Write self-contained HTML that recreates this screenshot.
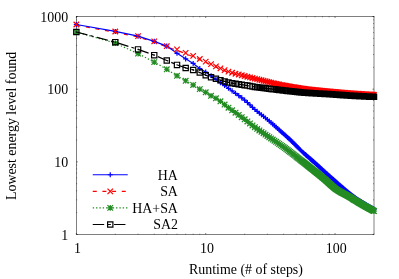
<!DOCTYPE html>
<html><head><meta charset="utf-8"><title>plot</title>
<style>html,body{margin:0;padding:0;background:#fff;}svg{display:block;will-change:transform;}text{font-family:"Liberation Serif",serif;font-size:13.9px;fill:#000;}</style></head><body>
<svg width="399" height="279" viewBox="0 0 399 279">
<rect width="399" height="279" fill="#fff"/>
<g fill="none" stroke="#000" stroke-width="0.5">
<rect x="76.35" y="16.5" width="297.65" height="218"/>
<path d="M76.35 234.5v-1.5M76.35 16.5v1.5M115.29 234.5v-0.8M115.29 16.5v0.8M138.07 234.5v-0.8M138.07 16.5v0.8M154.23 234.5v-0.8M154.23 16.5v0.8M166.77 234.5v-0.8M166.77 16.5v0.8M177.01 234.5v-0.8M177.01 16.5v0.8M185.67 234.5v-0.8M185.67 16.5v0.8M193.17 234.5v-0.8M193.17 16.5v0.8M199.79 234.5v-0.8M199.79 16.5v0.8M205.71 234.5v-1.5M205.71 16.5v1.5M244.64 234.5v-0.8M244.64 16.5v0.8M267.42 234.5v-0.8M267.42 16.5v0.8M283.58 234.5v-0.8M283.58 16.5v0.8M296.12 234.5v-0.8M296.12 16.5v0.8M306.36 234.5v-0.8M306.36 16.5v0.8M315.02 234.5v-0.8M315.02 16.5v0.8M322.52 234.5v-0.8M322.52 16.5v0.8M329.14 234.5v-0.8M329.14 16.5v0.8M335.06 234.5v-1.5M335.06 16.5v1.5M374 234.5v-0.8M374 16.5v0.8M76.35 234.5h1.5M374 234.5h-1.5M76.35 212.63h0.8M374 212.63h-0.8M76.35 199.83h0.8M374 199.83h-0.8M76.35 190.75h0.8M374 190.75h-0.8M76.35 183.71h0.8M374 183.71h-0.8M76.35 177.95h0.8M374 177.95h-0.8M76.35 173.09h0.8M374 173.09h-0.8M76.35 168.88h0.8M374 168.88h-0.8M76.35 165.16h0.8M374 165.16h-0.8M76.35 161.83h1.5M374 161.83h-1.5M76.35 139.96h0.8M374 139.96h-0.8M76.35 127.16h0.8M374 127.16h-0.8M76.35 118.08h0.8M374 118.08h-0.8M76.35 111.04h0.8M374 111.04h-0.8M76.35 105.29h0.8M374 105.29h-0.8M76.35 100.42h0.8M374 100.42h-0.8M76.35 96.21h0.8M374 96.21h-0.8M76.35 92.49h0.8M374 92.49h-0.8M76.35 89.17h1.5M374 89.17h-1.5M76.35 67.29h0.8M374 67.29h-0.8M76.35 54.5h0.8M374 54.5h-0.8M76.35 45.42h0.8M374 45.42h-0.8M76.35 38.37h0.8M374 38.37h-0.8M76.35 32.62h0.8M374 32.62h-0.8M76.35 27.76h0.8M374 27.76h-0.8M76.35 23.54h0.8M374 23.54h-0.8M76.35 19.83h0.8M374 19.83h-0.8M76.35 16.5h1.5M374 16.5h-1.5"/>
</g>
<text x="68.1" y="239.8" text-anchor="end">1</text>
<text x="68.1" y="167.13" text-anchor="end">10</text>
<text x="68.1" y="94.47" text-anchor="end">100</text>
<text x="68.1" y="21.8" text-anchor="end">1000</text>
<text x="77.55" y="253.4" text-anchor="middle">1</text>
<text x="206.91" y="253.4" text-anchor="middle">10</text>
<text x="336.26" y="253.4" text-anchor="middle">100</text>
<text x="246" y="274.1" text-anchor="middle">Runtime (# of steps)</text>
<text transform="translate(16 125.9) rotate(-90)" text-anchor="middle">Lowest energy level found</text>
<path fill="none" stroke="#ff0000" stroke-width="1.2" d="M76.35 25.3 L115.29 32.26 L138.07 36.99 L154.23 42.21 L166.77 46.97 L177.01 50.2 L185.67 53.71 L193.17 56.7 L199.79 59.76 L205.71 62.47 L211.06 64.91 L215.95 67.18 L220.44 69.2 L224.61 70.95 L228.48 72.39 L232.11 73.55 L235.51 74.51 L238.73 75.33 L241.76 76.09 L244.64 76.81 L247.39 77.51 L250 78.16 L252.5 78.78 L254.89 79.37 L257.18 79.95 L259.38 80.51 L261.5 81.05 L263.55 81.58 L265.52 82.09 L267.42 82.57 L269.27 83.04 L271.05 83.48 L272.78 83.9 L274.45 84.29 L276.08 84.66 L277.67 85.01 L279.2 85.34 L280.7 85.64 L282.16 85.93 L283.58 86.21 L284.97 86.48 L286.33 86.74 L287.65 86.99 L288.94 87.23 L290.2 87.46 L291.44 87.68 L292.64 87.89 L293.83 88.09 L294.99 88.29 L296.12 88.48 L297.23 88.66 L298.32 88.83 L299.39 89 L300.44 89.16 L301.47 89.31 L302.49 89.45 L303.48 89.59 L304.46 89.73 L305.42 89.86 L306.36 89.98 L307.29 90.1 L308.21 90.21 L309.1 90.32 L309.99 90.43 L310.86 90.53 L311.72 90.63 L312.56 90.73 L313.39 90.82 L314.21 90.91 L315.02 91 L315.82 91.09 L316.61 91.17 L317.38 91.26 L318.14 91.34 L318.9 91.41 L319.64 91.49 L320.38 91.57 L321.1 91.64 L321.82 91.71 L322.52 91.78 L323.22 91.85 L323.91 91.92 L324.59 91.98 L325.27 92.05 L325.93 92.11 L326.59 92.18 L327.24 92.24 L327.88 92.3 L328.51 92.36 L329.14 92.42 L329.76 92.48 L330.38 92.54 L330.98 92.59 L331.58 92.65 L332.18 92.7 L332.77 92.76 L333.35 92.81 L333.93 92.86 L334.5 92.92 L335.06 92.97 L335.62 93.02 L336.17 93.07 L336.72 93.12 L337.26 93.16 L337.8 93.21 L338.33 93.26 L338.86 93.3 L339.38 93.35 L339.9 93.39 L340.41 93.44 L340.92 93.48 L341.43 93.52 L341.93 93.56 L342.42 93.6 L342.91 93.65 L343.4 93.69 L343.88 93.72 L344.36 93.76 L344.83 93.8 L345.3 93.84 L345.77 93.88 L346.23 93.91 L346.69 93.95 L347.14 93.98 L347.6 94.02 L348.04 94.05 L348.49 94.09 L348.93 94.12 L349.37 94.15 L349.8 94.19 L350.23 94.22 L350.66 94.25 L351.08 94.28 L351.5 94.31 L351.92 94.34 L352.33 94.37 L352.75 94.4 L353.15 94.43 L353.56 94.46 L353.96 94.49 L354.36 94.52 L354.76 94.55 L355.15 94.57 L355.55 94.6 L355.93 94.63 L356.32 94.66 L356.7 94.68 L357.08 94.71 L357.46 94.74 L357.84 94.76 L358.21 94.79 L358.58 94.81 L358.95 94.84 L359.32 94.86 L359.68 94.89 L360.04 94.91 L360.4 94.94 L360.76 94.96 L361.11 94.99 L361.46 95.01 L361.81 95.03 L362.16 95.05 L362.51 95.08 L362.85 95.1 L363.19 95.12 L363.53 95.14 L363.87 95.17 L364.21 95.19 L364.54 95.21 L364.87 95.23 L365.2 95.25 L365.53 95.27 L365.85 95.29 L366.18 95.31 L366.5 95.33 L366.82 95.35 L367.14 95.37 L367.45 95.39 L367.77 95.41 L368.08 95.43 L368.39 95.45 L368.7 95.47 L369.01 95.49 L369.32 95.5 L369.62 95.52 L369.92 95.54 L370.22 95.56 L370.52 95.58 L370.82 95.59 L371.12 95.61 L371.41 95.63 L371.71 95.64 L372 95.66 L372.29 95.68 L372.58 95.69 L372.87 95.71 L373.15 95.73 L373.44 95.74 L373.72 95.76 L374 95.77" stroke-dasharray="4 5.67"/>
<path fill="none" stroke="#0000ff" stroke-width="1.2" d="M76.35 24.5 L115.29 31.46 L138.07 36.19 L154.23 41.41 L166.77 46.13 L177.01 53.3 L185.67 58.85 L193.17 63.44 L199.79 68.48 L205.71 72.11 L211.06 75.82 L215.95 79.42 L220.44 82.63 L224.61 85.57 L228.48 88.31 L232.11 90.9 L235.51 93.3 L238.73 95.59 L241.76 97.84 L244.64 100.11 L247.39 102.49 L250 104.95 L252.5 107.34 L254.89 109.5 L257.18 111.42 L259.38 113.18 L261.5 114.83 L263.55 116.42 L265.52 117.98 L267.42 119.54 L269.27 121.1 L271.05 122.64 L272.78 124.15 L274.45 125.64 L276.08 127.09 L277.67 128.51 L279.2 129.89 L280.7 131.23 L282.16 132.53 L283.58 133.8 L284.97 135.04 L286.33 136.26 L287.65 137.46 L288.94 138.65 L290.2 139.82 L291.44 140.98 L292.64 142.14 L293.83 143.31 L294.99 144.5 L296.12 145.67 L297.23 146.83 L298.32 147.94 L299.39 149.01 L300.44 150.02 L301.47 150.99 L302.49 151.93 L303.48 152.84 L304.46 153.72 L305.42 154.58 L306.36 155.41 L307.29 156.23 L308.21 157.03 L309.1 157.81 L309.99 158.59 L310.86 159.35 L311.72 160.1 L312.56 160.84 L313.39 161.57 L314.21 162.3 L315.02 163.02 L315.82 163.74 L316.61 164.44 L317.38 165.14 L318.14 165.84 L318.9 166.52 L319.64 167.2 L320.38 167.87 L321.1 168.53 L321.82 169.18 L322.52 169.83 L323.22 170.46 L323.91 171.09 L324.59 171.72 L325.27 172.33 L325.93 172.94 L326.59 173.54 L327.24 174.13 L327.88 174.71 L328.51 175.29 L329.14 175.86 L329.76 176.42 L330.38 176.98 L330.98 177.53 L331.58 178.07 L332.18 178.6 L332.77 179.13 L333.35 179.65 L333.93 180.16 L334.5 180.67 L335.06 181.17 L335.62 181.66 L336.17 182.15 L336.72 182.63 L337.26 183.1 L337.8 183.57 L338.33 184.03 L338.86 184.48 L339.38 184.93 L339.9 185.38 L340.41 185.82 L340.92 186.26 L341.43 186.69 L341.93 187.13 L342.42 187.55 L342.91 187.98 L343.4 188.4 L343.88 188.81 L344.36 189.23 L344.83 189.63 L345.3 190.04 L345.77 190.43 L346.23 190.83 L346.69 191.22 L347.14 191.6 L347.6 191.98 L348.04 192.35 L348.49 192.72 L348.93 193.09 L349.37 193.44 L349.8 193.8 L350.23 194.15 L350.66 194.49 L351.08 194.83 L351.5 195.16 L351.92 195.49 L352.33 195.81 L352.75 196.13 L353.15 196.44 L353.56 196.74 L353.96 197.04 L354.36 197.34 L354.76 197.63 L355.15 197.91 L355.55 198.19 L355.93 198.46 L356.32 198.73 L356.7 198.99 L357.08 199.24 L357.46 199.5 L357.84 199.74 L358.21 199.99 L358.58 200.23 L358.95 200.46 L359.32 200.7 L359.68 200.93 L360.04 201.15 L360.4 201.38 L360.76 201.6 L361.11 201.82 L361.46 202.04 L361.81 202.26 L362.16 202.47 L362.51 202.68 L362.85 202.9 L363.19 203.1 L363.53 203.31 L363.87 203.52 L364.21 203.72 L364.54 203.92 L364.87 204.12 L365.2 204.32 L365.53 204.52 L365.85 204.71 L366.18 204.9 L366.5 205.1 L366.82 205.29 L367.14 205.47 L367.45 205.66 L367.77 205.84 L368.08 206.03 L368.39 206.21 L368.7 206.39 L369.01 206.56 L369.32 206.74 L369.62 206.91 L369.92 207.09 L370.22 207.26 L370.52 207.43 L370.82 207.59 L371.12 207.76 L371.41 207.92 L371.71 208.09 L372 208.25 L372.29 208.41 L372.58 208.57 L372.87 208.72 L373.15 208.88 L373.44 209.03 L373.72 209.18 L374 209.33"/>
<path fill="none" stroke="#0000ff" stroke-width="1.2" d="M73.8 24.5h5.1M76.35 21.95v5.1M112.74 31.46h5.1M115.29 28.91v5.1M135.52 36.19h5.1M138.07 33.64v5.1M151.68 41.41h5.1M154.23 38.86v5.1M164.22 46.13h5.1M166.77 43.58v5.1M174.46 53.3h5.1M177.01 50.75v5.1M183.12 58.85h5.1M185.67 56.3v5.1M190.62 63.44h5.1M193.17 60.89v5.1M197.24 68.48h5.1M199.79 65.93v5.1M203.16 72.11h5.1M205.71 69.56v5.1M208.51 75.82h5.1M211.06 73.27v5.1M213.4 79.42h5.1M215.95 76.87v5.1M217.89 82.63h5.1M220.44 80.08v5.1M222.06 85.57h5.1M224.61 83.02v5.1M225.93 88.31h5.1M228.48 85.76v5.1M229.56 90.9h5.1M232.11 88.35v5.1M232.96 93.3h5.1M235.51 90.75v5.1M236.18 95.59h5.1M238.73 93.04v5.1M239.21 97.84h5.1M241.76 95.29v5.1M242.09 100.11h5.1M244.64 97.56v5.1M244.84 102.49h5.1M247.39 99.94v5.1M247.45 104.95h5.1M250 102.4v5.1M249.95 107.34h5.1M252.5 104.79v5.1M252.34 109.5h5.1M254.89 106.95v5.1M254.63 111.42h5.1M257.18 108.87v5.1M256.83 113.18h5.1M259.38 110.63v5.1M258.95 114.83h5.1M261.5 112.28v5.1M261 116.42h5.1M263.55 113.87v5.1M262.97 117.98h5.1M265.52 115.43v5.1M264.87 119.54h5.1M267.42 116.99v5.1M266.72 121.1h5.1M269.27 118.55v5.1M268.5 122.64h5.1M271.05 120.09v5.1M270.23 124.15h5.1M272.78 121.6v5.1M271.9 125.64h5.1M274.45 123.09v5.1M273.53 127.09h5.1M276.08 124.54v5.1M275.12 128.51h5.1M277.67 125.96v5.1M276.65 129.89h5.1M279.2 127.34v5.1M278.15 131.23h5.1M280.7 128.68v5.1M279.61 132.53h5.1M282.16 129.98v5.1M281.03 133.8h5.1M283.58 131.25v5.1M282.42 135.04h5.1M284.97 132.49v5.1M283.78 136.26h5.1M286.33 133.71v5.1M285.1 137.46h5.1M287.65 134.91v5.1M286.39 138.65h5.1M288.94 136.1v5.1M287.65 139.82h5.1M290.2 137.27v5.1M288.89 140.98h5.1M291.44 138.43v5.1M290.09 142.14h5.1M292.64 139.59v5.1M291.28 143.31h5.1M293.83 140.76v5.1M292.44 144.5h5.1M294.99 141.95v5.1M293.57 145.67h5.1M296.12 143.12v5.1M294.68 146.83h5.1M297.23 144.28v5.1M295.77 147.94h5.1M298.32 145.39v5.1M296.84 149.01h5.1M299.39 146.46v5.1M297.89 150.02h5.1M300.44 147.47v5.1M298.92 150.99h5.1M301.47 148.44v5.1M299.94 151.93h5.1M302.49 149.38v5.1M300.93 152.84h5.1M303.48 150.29v5.1M301.91 153.72h5.1M304.46 151.17v5.1M302.87 154.58h5.1M305.42 152.03v5.1M303.81 155.41h5.1M306.36 152.86v5.1M304.74 156.23h5.1M307.29 153.68v5.1M305.66 157.03h5.1M308.21 154.48v5.1M306.55 157.81h5.1M309.1 155.26v5.1M307.44 158.59h5.1M309.99 156.04v5.1M308.31 159.35h5.1M310.86 156.8v5.1M309.17 160.1h5.1M311.72 157.55v5.1M310.01 160.84h5.1M312.56 158.29v5.1M310.84 161.57h5.1M313.39 159.02v5.1M311.66 162.3h5.1M314.21 159.75v5.1M312.47 163.02h5.1M315.02 160.47v5.1M313.27 163.74h5.1M315.82 161.19v5.1M314.06 164.44h5.1M316.61 161.89v5.1M314.83 165.14h5.1M317.38 162.59v5.1M315.59 165.84h5.1M318.14 163.29v5.1M316.35 166.52h5.1M318.9 163.97v5.1M317.09 167.2h5.1M319.64 164.65v5.1M317.83 167.87h5.1M320.38 165.32v5.1M318.55 168.53h5.1M321.1 165.98v5.1M319.27 169.18h5.1M321.82 166.63v5.1M319.97 169.83h5.1M322.52 167.28v5.1M320.67 170.46h5.1M323.22 167.91v5.1M321.36 171.09h5.1M323.91 168.54v5.1M322.04 171.72h5.1M324.59 169.17v5.1M322.72 172.33h5.1M325.27 169.78v5.1M323.38 172.94h5.1M325.93 170.39v5.1M324.04 173.54h5.1M326.59 170.99v5.1M324.69 174.13h5.1M327.24 171.58v5.1M325.33 174.71h5.1M327.88 172.16v5.1M325.96 175.29h5.1M328.51 172.74v5.1M326.59 175.86h5.1M329.14 173.31v5.1M327.21 176.42h5.1M329.76 173.87v5.1M327.83 176.98h5.1M330.38 174.43v5.1M328.43 177.53h5.1M330.98 174.98v5.1M329.03 178.07h5.1M331.58 175.52v5.1M329.63 178.6h5.1M332.18 176.05v5.1M330.22 179.13h5.1M332.77 176.58v5.1M330.8 179.65h5.1M333.35 177.1v5.1M331.38 180.16h5.1M333.93 177.61v5.1M331.95 180.67h5.1M334.5 178.12v5.1M332.51 181.17h5.1M335.06 178.62v5.1M333.07 181.66h5.1M335.62 179.11v5.1M333.62 182.15h5.1M336.17 179.6v5.1M334.17 182.63h5.1M336.72 180.08v5.1M334.71 183.1h5.1M337.26 180.55v5.1M335.25 183.57h5.1M337.8 181.02v5.1M335.78 184.03h5.1M338.33 181.48v5.1M336.31 184.48h5.1M338.86 181.93v5.1M336.83 184.93h5.1M339.38 182.38v5.1M337.35 185.38h5.1M339.9 182.83v5.1M337.86 185.82h5.1M340.41 183.27v5.1M338.37 186.26h5.1M340.92 183.71v5.1M338.88 186.69h5.1M341.43 184.14v5.1M339.38 187.13h5.1M341.93 184.58v5.1M339.87 187.55h5.1M342.42 185v5.1M340.36 187.98h5.1M342.91 185.43v5.1M340.85 188.4h5.1M343.4 185.85v5.1M341.33 188.81h5.1M343.88 186.26v5.1M341.81 189.23h5.1M344.36 186.68v5.1M342.28 189.63h5.1M344.83 187.08v5.1M342.75 190.04h5.1M345.3 187.49v5.1M343.22 190.43h5.1M345.77 187.88v5.1M343.68 190.83h5.1M346.23 188.28v5.1M344.14 191.22h5.1M346.69 188.67v5.1M344.59 191.6h5.1M347.14 189.05v5.1M345.05 191.98h5.1M347.6 189.43v5.1M345.49 192.35h5.1M348.04 189.8v5.1M345.94 192.72h5.1M348.49 190.17v5.1M346.38 193.09h5.1M348.93 190.54v5.1M346.82 193.44h5.1M349.37 190.89v5.1M347.25 193.8h5.1M349.8 191.25v5.1M347.68 194.15h5.1M350.23 191.6v5.1M348.11 194.49h5.1M350.66 191.94v5.1M348.53 194.83h5.1M351.08 192.28v5.1M348.95 195.16h5.1M351.5 192.61v5.1M349.37 195.49h5.1M351.92 192.94v5.1M349.78 195.81h5.1M352.33 193.26v5.1M350.2 196.13h5.1M352.75 193.58v5.1M350.6 196.44h5.1M353.15 193.89v5.1M351.01 196.74h5.1M353.56 194.19v5.1M351.41 197.04h5.1M353.96 194.49v5.1M351.81 197.34h5.1M354.36 194.79v5.1M352.21 197.63h5.1M354.76 195.08v5.1M352.6 197.91h5.1M355.15 195.36v5.1M353 198.19h5.1M355.55 195.64v5.1M353.38 198.46h5.1M355.93 195.91v5.1M353.77 198.73h5.1M356.32 196.18v5.1M354.15 198.99h5.1M356.7 196.44v5.1M354.53 199.24h5.1M357.08 196.69v5.1M354.91 199.5h5.1M357.46 196.95v5.1M355.29 199.74h5.1M357.84 197.19v5.1M355.66 199.99h5.1M358.21 197.44v5.1M356.03 200.23h5.1M358.58 197.68v5.1M356.4 200.46h5.1M358.95 197.91v5.1M356.77 200.7h5.1M359.32 198.15v5.1M357.13 200.93h5.1M359.68 198.38v5.1M357.49 201.15h5.1M360.04 198.6v5.1M357.85 201.38h5.1M360.4 198.83v5.1M358.21 201.6h5.1M360.76 199.05v5.1M358.56 201.82h5.1M361.11 199.27v5.1M358.91 202.04h5.1M361.46 199.49v5.1M359.26 202.26h5.1M361.81 199.71v5.1M359.61 202.47h5.1M362.16 199.92v5.1M359.96 202.68h5.1M362.51 200.13v5.1M360.3 202.9h5.1M362.85 200.35v5.1M360.64 203.1h5.1M363.19 200.55v5.1M360.98 203.31h5.1M363.53 200.76v5.1M361.32 203.52h5.1M363.87 200.97v5.1M361.66 203.72h5.1M364.21 201.17v5.1M361.99 203.92h5.1M364.54 201.37v5.1M362.32 204.12h5.1M364.87 201.57v5.1M362.65 204.32h5.1M365.2 201.77v5.1M362.98 204.52h5.1M365.53 201.97v5.1M363.3 204.71h5.1M365.85 202.16v5.1M363.63 204.9h5.1M366.18 202.35v5.1M363.95 205.1h5.1M366.5 202.55v5.1M364.27 205.29h5.1M366.82 202.74v5.1M364.59 205.47h5.1M367.14 202.92v5.1M364.9 205.66h5.1M367.45 203.11v5.1M365.22 205.84h5.1M367.77 203.29v5.1M365.53 206.03h5.1M368.08 203.48v5.1M365.84 206.21h5.1M368.39 203.66v5.1M366.15 206.39h5.1M368.7 203.84v5.1M366.46 206.56h5.1M369.01 204.01v5.1M366.77 206.74h5.1M369.32 204.19v5.1M367.07 206.91h5.1M369.62 204.36v5.1M367.37 207.09h5.1M369.92 204.54v5.1M367.67 207.26h5.1M370.22 204.71v5.1M367.97 207.43h5.1M370.52 204.88v5.1M368.27 207.59h5.1M370.82 205.04v5.1M368.57 207.76h5.1M371.12 205.21v5.1M368.86 207.92h5.1M371.41 205.37v5.1M369.16 208.09h5.1M371.71 205.54v5.1M369.45 208.25h5.1M372 205.7v5.1M369.74 208.41h5.1M372.29 205.86v5.1M370.03 208.57h5.1M372.58 206.02v5.1M370.32 208.72h5.1M372.87 206.17v5.1M370.6 208.88h5.1M373.15 206.33v5.1M370.89 209.03h5.1M373.44 206.48v5.1M371.17 209.18h5.1M373.72 206.63v5.1M371.45 209.33h5.1M374 206.78v5.1"/>
<path fill="none" stroke="#ff0000" stroke-width="1.2" d="M73.6 21.75l5.5 5.5M73.6 27.25l5.5 -5.5M112.54 28.71l5.5 5.5M112.54 34.21l5.5 -5.5M135.32 33.44l5.5 5.5M135.32 38.94l5.5 -5.5M151.48 38.66l5.5 5.5M151.48 44.16l5.5 -5.5M164.02 43.42l5.5 5.5M164.02 48.92l5.5 -5.5M174.26 46.65l5.5 5.5M174.26 52.15l5.5 -5.5M182.92 50.16l5.5 5.5M182.92 55.66l5.5 -5.5M190.42 53.15l5.5 5.5M190.42 58.65l5.5 -5.5M197.04 56.21l5.5 5.5M197.04 61.71l5.5 -5.5M202.96 58.92l5.5 5.5M202.96 64.42l5.5 -5.5M208.31 61.36l5.5 5.5M208.31 66.86l5.5 -5.5M213.2 63.63l5.5 5.5M213.2 69.13l5.5 -5.5M217.69 65.65l5.5 5.5M217.69 71.15l5.5 -5.5M221.86 67.4l5.5 5.5M221.86 72.9l5.5 -5.5M225.73 68.84l5.5 5.5M225.73 74.34l5.5 -5.5M229.36 70l5.5 5.5M229.36 75.5l5.5 -5.5M232.76 70.96l5.5 5.5M232.76 76.46l5.5 -5.5M235.98 71.78l5.5 5.5M235.98 77.28l5.5 -5.5M239.01 72.54l5.5 5.5M239.01 78.04l5.5 -5.5M241.89 73.26l5.5 5.5M241.89 78.76l5.5 -5.5M244.64 73.96l5.5 5.5M244.64 79.46l5.5 -5.5M247.25 74.61l5.5 5.5M247.25 80.11l5.5 -5.5M249.75 75.23l5.5 5.5M249.75 80.73l5.5 -5.5M252.14 75.82l5.5 5.5M252.14 81.32l5.5 -5.5M254.43 76.4l5.5 5.5M254.43 81.9l5.5 -5.5M256.63 76.96l5.5 5.5M256.63 82.46l5.5 -5.5M258.75 77.5l5.5 5.5M258.75 83l5.5 -5.5M260.8 78.03l5.5 5.5M260.8 83.53l5.5 -5.5M262.77 78.54l5.5 5.5M262.77 84.04l5.5 -5.5M264.67 79.02l5.5 5.5M264.67 84.52l5.5 -5.5M266.52 79.49l5.5 5.5M266.52 84.99l5.5 -5.5M268.3 79.93l5.5 5.5M268.3 85.43l5.5 -5.5M270.03 80.35l5.5 5.5M270.03 85.85l5.5 -5.5M271.7 80.74l5.5 5.5M271.7 86.24l5.5 -5.5M273.33 81.11l5.5 5.5M273.33 86.61l5.5 -5.5M274.92 81.46l5.5 5.5M274.92 86.96l5.5 -5.5M276.45 81.79l5.5 5.5M276.45 87.29l5.5 -5.5M277.95 82.09l5.5 5.5M277.95 87.59l5.5 -5.5M279.41 82.38l5.5 5.5M279.41 87.88l5.5 -5.5M280.83 82.66l5.5 5.5M280.83 88.16l5.5 -5.5M282.22 82.93l5.5 5.5M282.22 88.43l5.5 -5.5M283.58 83.19l5.5 5.5M283.58 88.69l5.5 -5.5M284.9 83.44l5.5 5.5M284.9 88.94l5.5 -5.5M286.19 83.68l5.5 5.5M286.19 89.18l5.5 -5.5M287.45 83.91l5.5 5.5M287.45 89.41l5.5 -5.5M288.69 84.13l5.5 5.5M288.69 89.63l5.5 -5.5M289.89 84.34l5.5 5.5M289.89 89.84l5.5 -5.5M291.08 84.54l5.5 5.5M291.08 90.04l5.5 -5.5M292.24 84.74l5.5 5.5M292.24 90.24l5.5 -5.5M293.37 84.93l5.5 5.5M293.37 90.43l5.5 -5.5M294.48 85.11l5.5 5.5M294.48 90.61l5.5 -5.5M295.57 85.28l5.5 5.5M295.57 90.78l5.5 -5.5M296.64 85.45l5.5 5.5M296.64 90.95l5.5 -5.5M297.69 85.61l5.5 5.5M297.69 91.11l5.5 -5.5M298.72 85.76l5.5 5.5M298.72 91.26l5.5 -5.5M299.74 85.9l5.5 5.5M299.74 91.4l5.5 -5.5M300.73 86.04l5.5 5.5M300.73 91.54l5.5 -5.5M301.71 86.18l5.5 5.5M301.71 91.68l5.5 -5.5M302.67 86.31l5.5 5.5M302.67 91.81l5.5 -5.5M303.61 86.43l5.5 5.5M303.61 91.93l5.5 -5.5M304.54 86.55l5.5 5.5M304.54 92.05l5.5 -5.5M305.46 86.66l5.5 5.5M305.46 92.16l5.5 -5.5M306.35 86.77l5.5 5.5M306.35 92.27l5.5 -5.5M307.24 86.88l5.5 5.5M307.24 92.38l5.5 -5.5M308.11 86.98l5.5 5.5M308.11 92.48l5.5 -5.5M308.97 87.08l5.5 5.5M308.97 92.58l5.5 -5.5M309.81 87.18l5.5 5.5M309.81 92.68l5.5 -5.5M310.64 87.27l5.5 5.5M310.64 92.77l5.5 -5.5M311.46 87.36l5.5 5.5M311.46 92.86l5.5 -5.5M312.27 87.45l5.5 5.5M312.27 92.95l5.5 -5.5M313.07 87.54l5.5 5.5M313.07 93.04l5.5 -5.5M313.86 87.62l5.5 5.5M313.86 93.12l5.5 -5.5M314.63 87.71l5.5 5.5M314.63 93.21l5.5 -5.5M315.39 87.79l5.5 5.5M315.39 93.29l5.5 -5.5M316.15 87.86l5.5 5.5M316.15 93.36l5.5 -5.5M316.89 87.94l5.5 5.5M316.89 93.44l5.5 -5.5M317.63 88.02l5.5 5.5M317.63 93.52l5.5 -5.5M318.35 88.09l5.5 5.5M318.35 93.59l5.5 -5.5M319.07 88.16l5.5 5.5M319.07 93.66l5.5 -5.5M319.77 88.23l5.5 5.5M319.77 93.73l5.5 -5.5M320.47 88.3l5.5 5.5M320.47 93.8l5.5 -5.5M321.16 88.37l5.5 5.5M321.16 93.87l5.5 -5.5M321.84 88.43l5.5 5.5M321.84 93.93l5.5 -5.5M322.52 88.5l5.5 5.5M322.52 94l5.5 -5.5M323.18 88.56l5.5 5.5M323.18 94.06l5.5 -5.5M323.84 88.63l5.5 5.5M323.84 94.13l5.5 -5.5M324.49 88.69l5.5 5.5M324.49 94.19l5.5 -5.5M325.13 88.75l5.5 5.5M325.13 94.25l5.5 -5.5M325.76 88.81l5.5 5.5M325.76 94.31l5.5 -5.5M326.39 88.87l5.5 5.5M326.39 94.37l5.5 -5.5M327.01 88.93l5.5 5.5M327.01 94.43l5.5 -5.5M327.63 88.99l5.5 5.5M327.63 94.49l5.5 -5.5M328.23 89.04l5.5 5.5M328.23 94.54l5.5 -5.5M328.83 89.1l5.5 5.5M328.83 94.6l5.5 -5.5M329.43 89.15l5.5 5.5M329.43 94.65l5.5 -5.5M330.02 89.21l5.5 5.5M330.02 94.71l5.5 -5.5M330.6 89.26l5.5 5.5M330.6 94.76l5.5 -5.5M331.18 89.31l5.5 5.5M331.18 94.81l5.5 -5.5M331.75 89.37l5.5 5.5M331.75 94.87l5.5 -5.5M332.31 89.42l5.5 5.5M332.31 94.92l5.5 -5.5M332.87 89.47l5.5 5.5M332.87 94.97l5.5 -5.5M333.42 89.52l5.5 5.5M333.42 95.02l5.5 -5.5M333.97 89.57l5.5 5.5M333.97 95.07l5.5 -5.5M334.51 89.61l5.5 5.5M334.51 95.11l5.5 -5.5M335.05 89.66l5.5 5.5M335.05 95.16l5.5 -5.5M335.58 89.71l5.5 5.5M335.58 95.21l5.5 -5.5M336.11 89.75l5.5 5.5M336.11 95.25l5.5 -5.5M336.63 89.8l5.5 5.5M336.63 95.3l5.5 -5.5M337.15 89.84l5.5 5.5M337.15 95.34l5.5 -5.5M337.66 89.89l5.5 5.5M337.66 95.39l5.5 -5.5M338.17 89.93l5.5 5.5M338.17 95.43l5.5 -5.5M338.68 89.97l5.5 5.5M338.68 95.47l5.5 -5.5M339.18 90.01l5.5 5.5M339.18 95.51l5.5 -5.5M339.67 90.05l5.5 5.5M339.67 95.55l5.5 -5.5M340.16 90.1l5.5 5.5M340.16 95.6l5.5 -5.5M340.65 90.14l5.5 5.5M340.65 95.64l5.5 -5.5M341.13 90.17l5.5 5.5M341.13 95.67l5.5 -5.5M341.61 90.21l5.5 5.5M341.61 95.71l5.5 -5.5M342.08 90.25l5.5 5.5M342.08 95.75l5.5 -5.5M342.55 90.29l5.5 5.5M342.55 95.79l5.5 -5.5M343.02 90.33l5.5 5.5M343.02 95.83l5.5 -5.5M343.48 90.36l5.5 5.5M343.48 95.86l5.5 -5.5M343.94 90.4l5.5 5.5M343.94 95.9l5.5 -5.5M344.39 90.43l5.5 5.5M344.39 95.93l5.5 -5.5M344.85 90.47l5.5 5.5M344.85 95.97l5.5 -5.5M345.29 90.5l5.5 5.5M345.29 96l5.5 -5.5M345.74 90.54l5.5 5.5M345.74 96.04l5.5 -5.5M346.18 90.57l5.5 5.5M346.18 96.07l5.5 -5.5M346.62 90.6l5.5 5.5M346.62 96.1l5.5 -5.5M347.05 90.64l5.5 5.5M347.05 96.14l5.5 -5.5M347.48 90.67l5.5 5.5M347.48 96.17l5.5 -5.5M347.91 90.7l5.5 5.5M347.91 96.2l5.5 -5.5M348.33 90.73l5.5 5.5M348.33 96.23l5.5 -5.5M348.75 90.76l5.5 5.5M348.75 96.26l5.5 -5.5M349.17 90.79l5.5 5.5M349.17 96.29l5.5 -5.5M349.58 90.82l5.5 5.5M349.58 96.32l5.5 -5.5M350 90.85l5.5 5.5M350 96.35l5.5 -5.5M350.4 90.88l5.5 5.5M350.4 96.38l5.5 -5.5M350.81 90.91l5.5 5.5M350.81 96.41l5.5 -5.5M351.21 90.94l5.5 5.5M351.21 96.44l5.5 -5.5M351.61 90.97l5.5 5.5M351.61 96.47l5.5 -5.5M352.01 91l5.5 5.5M352.01 96.5l5.5 -5.5M352.4 91.02l5.5 5.5M352.4 96.52l5.5 -5.5M352.8 91.05l5.5 5.5M352.8 96.55l5.5 -5.5M353.18 91.08l5.5 5.5M353.18 96.58l5.5 -5.5M353.57 91.11l5.5 5.5M353.57 96.61l5.5 -5.5M353.95 91.13l5.5 5.5M353.95 96.63l5.5 -5.5M354.33 91.16l5.5 5.5M354.33 96.66l5.5 -5.5M354.71 91.19l5.5 5.5M354.71 96.69l5.5 -5.5M355.09 91.21l5.5 5.5M355.09 96.71l5.5 -5.5M355.46 91.24l5.5 5.5M355.46 96.74l5.5 -5.5M355.83 91.26l5.5 5.5M355.83 96.76l5.5 -5.5M356.2 91.29l5.5 5.5M356.2 96.79l5.5 -5.5M356.57 91.31l5.5 5.5M356.57 96.81l5.5 -5.5M356.93 91.34l5.5 5.5M356.93 96.84l5.5 -5.5M357.29 91.36l5.5 5.5M357.29 96.86l5.5 -5.5M357.65 91.39l5.5 5.5M357.65 96.89l5.5 -5.5M358.01 91.41l5.5 5.5M358.01 96.91l5.5 -5.5M358.36 91.44l5.5 5.5M358.36 96.94l5.5 -5.5M358.71 91.46l5.5 5.5M358.71 96.96l5.5 -5.5M359.06 91.48l5.5 5.5M359.06 96.98l5.5 -5.5M359.41 91.5l5.5 5.5M359.41 97l5.5 -5.5M359.76 91.53l5.5 5.5M359.76 97.03l5.5 -5.5M360.1 91.55l5.5 5.5M360.1 97.05l5.5 -5.5M360.44 91.57l5.5 5.5M360.44 97.07l5.5 -5.5M360.78 91.59l5.5 5.5M360.78 97.09l5.5 -5.5M361.12 91.62l5.5 5.5M361.12 97.12l5.5 -5.5M361.46 91.64l5.5 5.5M361.46 97.14l5.5 -5.5M361.79 91.66l5.5 5.5M361.79 97.16l5.5 -5.5M362.12 91.68l5.5 5.5M362.12 97.18l5.5 -5.5M362.45 91.7l5.5 5.5M362.45 97.2l5.5 -5.5M362.78 91.72l5.5 5.5M362.78 97.22l5.5 -5.5M363.1 91.74l5.5 5.5M363.1 97.24l5.5 -5.5M363.43 91.76l5.5 5.5M363.43 97.26l5.5 -5.5M363.75 91.78l5.5 5.5M363.75 97.28l5.5 -5.5M364.07 91.8l5.5 5.5M364.07 97.3l5.5 -5.5M364.39 91.82l5.5 5.5M364.39 97.32l5.5 -5.5M364.7 91.84l5.5 5.5M364.7 97.34l5.5 -5.5M365.02 91.86l5.5 5.5M365.02 97.36l5.5 -5.5M365.33 91.88l5.5 5.5M365.33 97.38l5.5 -5.5M365.64 91.9l5.5 5.5M365.64 97.4l5.5 -5.5M365.95 91.92l5.5 5.5M365.95 97.42l5.5 -5.5M366.26 91.94l5.5 5.5M366.26 97.44l5.5 -5.5M366.57 91.95l5.5 5.5M366.57 97.45l5.5 -5.5M366.87 91.97l5.5 5.5M366.87 97.47l5.5 -5.5M367.17 91.99l5.5 5.5M367.17 97.49l5.5 -5.5M367.47 92.01l5.5 5.5M367.47 97.51l5.5 -5.5M367.77 92.03l5.5 5.5M367.77 97.53l5.5 -5.5M368.07 92.04l5.5 5.5M368.07 97.54l5.5 -5.5M368.37 92.06l5.5 5.5M368.37 97.56l5.5 -5.5M368.66 92.08l5.5 5.5M368.66 97.58l5.5 -5.5M368.96 92.09l5.5 5.5M368.96 97.59l5.5 -5.5M369.25 92.11l5.5 5.5M369.25 97.61l5.5 -5.5M369.54 92.13l5.5 5.5M369.54 97.63l5.5 -5.5M369.83 92.14l5.5 5.5M369.83 97.64l5.5 -5.5M370.12 92.16l5.5 5.5M370.12 97.66l5.5 -5.5M370.4 92.18l5.5 5.5M370.4 97.68l5.5 -5.5M370.69 92.19l5.5 5.5M370.69 97.69l5.5 -5.5M370.97 92.21l5.5 5.5M370.97 97.71l5.5 -5.5M371.25 92.22l5.5 5.5M371.25 97.72l5.5 -5.5"/>
<path fill="none" stroke="#228b22" stroke-width="1.2" d="M76.35 32 L115.29 43.12 L138.07 53.64 L154.23 62.1 L166.77 69.26 L177.01 75.82 L185.67 80.77 L193.17 84.96 L199.79 89.12 L205.71 92.33 L211.06 95.8 L215.95 98.3 L220.44 101.31 L224.61 104.58 L228.48 107.66 L232.11 110.32 L235.51 112.72 L238.73 114.98 L241.76 117.16 L244.64 119.32 L247.39 121.44 L250 123.49 L252.5 125.43 L254.89 127.22 L257.18 128.87 L259.38 130.42 L261.5 131.89 L263.55 133.29 L265.52 134.64 L267.42 135.95 L269.27 137.2 L271.05 138.41 L272.78 139.57 L274.45 140.69 L276.08 141.79 L277.67 142.87 L279.2 143.94 L280.7 145 L282.16 146.04 L283.58 147.07 L284.97 148.08 L286.33 149.07 L287.65 150.05 L288.94 151.01 L290.2 151.96 L291.44 152.89 L292.64 153.81 L293.83 154.72 L294.99 155.63 L296.12 156.53 L297.23 157.41 L298.32 158.28 L299.39 159.12 L300.44 159.95 L301.47 160.76 L302.49 161.55 L303.48 162.32 L304.46 163.08 L305.42 163.83 L306.36 164.57 L307.29 165.29 L308.21 166.01 L309.1 166.71 L309.99 167.41 L310.86 168.1 L311.72 168.78 L312.56 169.45 L313.39 170.11 L314.21 170.77 L315.02 171.42 L315.82 172.06 L316.61 172.69 L317.38 173.32 L318.14 173.94 L318.9 174.55 L319.64 175.15 L320.38 175.75 L321.1 176.35 L321.82 176.94 L322.52 177.52 L323.22 178.1 L323.91 178.68 L324.59 179.25 L325.27 179.83 L325.93 180.42 L326.59 181.01 L327.24 181.6 L327.88 182.19 L328.51 182.77 L329.14 183.35 L329.76 183.92 L330.38 184.48 L330.98 185.03 L331.58 185.56 L332.18 186.09 L332.77 186.59 L333.35 187.09 L333.93 187.56 L334.5 188.02 L335.06 188.46 L335.62 188.87 L336.17 189.27 L336.72 189.65 L337.26 190.01 L337.8 190.36 L338.33 190.69 L338.86 191.01 L339.38 191.32 L339.9 191.62 L340.41 191.92 L340.92 192.2 L341.43 192.48 L341.93 192.75 L342.42 193.02 L342.91 193.28 L343.4 193.53 L343.88 193.79 L344.36 194.04 L344.83 194.29 L345.3 194.54 L345.77 194.79 L346.23 195.04 L346.69 195.29 L347.14 195.54 L347.6 195.79 L348.04 196.04 L348.49 196.3 L348.93 196.56 L349.37 196.82 L349.8 197.08 L350.23 197.34 L350.66 197.61 L351.08 197.87 L351.5 198.13 L351.92 198.39 L352.33 198.65 L352.75 198.91 L353.15 199.16 L353.56 199.41 L353.96 199.66 L354.36 199.91 L354.76 200.15 L355.15 200.39 L355.55 200.63 L355.93 200.87 L356.32 201.1 L356.7 201.34 L357.08 201.57 L357.46 201.8 L357.84 202.03 L358.21 202.25 L358.58 202.48 L358.95 202.7 L359.32 202.92 L359.68 203.14 L360.04 203.35 L360.4 203.56 L360.76 203.77 L361.11 203.98 L361.46 204.18 L361.81 204.38 L362.16 204.58 L362.51 204.78 L362.85 204.97 L363.19 205.17 L363.53 205.36 L363.87 205.55 L364.21 205.74 L364.54 205.93 L364.87 206.12 L365.2 206.3 L365.53 206.49 L365.85 206.67 L366.18 206.85 L366.5 207.03 L366.82 207.2 L367.14 207.38 L367.45 207.55 L367.77 207.73 L368.08 207.9 L368.39 208.07 L368.7 208.24 L369.01 208.41 L369.32 208.57 L369.62 208.74 L369.92 208.9 L370.22 209.06 L370.52 209.22 L370.82 209.38 L371.12 209.54 L371.41 209.69 L371.71 209.85 L372 210 L372.29 210.16 L372.58 210.31 L372.87 210.46 L373.15 210.61 L373.44 210.75 L373.72 210.9 L374 211.04" stroke-dasharray="1.35 1.98"/>
<path fill="none" stroke="#228b22" stroke-width="1.2" d="M73.55 32h5.6M76.35 29.2v5.6M112.49 43.12h5.6M115.29 40.32v5.6M135.27 53.64h5.6M138.07 50.84v5.6M151.43 62.1h5.6M154.23 59.3v5.6M163.97 69.26h5.6M166.77 66.46v5.6M174.21 75.82h5.6M177.01 73.02v5.6M182.87 80.77h5.6M185.67 77.97v5.6M190.37 84.96h5.6M193.17 82.16v5.6M196.99 89.12h5.6M199.79 86.32v5.6M202.91 92.33h5.6M205.71 89.53v5.6M208.26 95.8h5.6M211.06 93v5.6M213.15 98.3h5.6M215.95 95.5v5.6M217.64 101.31h5.6M220.44 98.51v5.6M221.81 104.58h5.6M224.61 101.78v5.6M225.68 107.66h5.6M228.48 104.86v5.6M229.31 110.32h5.6M232.11 107.52v5.6M232.71 112.72h5.6M235.51 109.92v5.6M235.93 114.98h5.6M238.73 112.18v5.6M238.96 117.16h5.6M241.76 114.36v5.6M241.84 119.32h5.6M244.64 116.52v5.6M244.59 121.44h5.6M247.39 118.64v5.6M247.2 123.49h5.6M250 120.69v5.6M249.7 125.43h5.6M252.5 122.63v5.6M252.09 127.22h5.6M254.89 124.42v5.6M254.38 128.87h5.6M257.18 126.07v5.6M256.58 130.42h5.6M259.38 127.62v5.6M258.7 131.89h5.6M261.5 129.09v5.6M260.75 133.29h5.6M263.55 130.49v5.6M262.72 134.64h5.6M265.52 131.84v5.6M264.62 135.95h5.6M267.42 133.15v5.6M266.47 137.2h5.6M269.27 134.4v5.6M268.25 138.41h5.6M271.05 135.61v5.6M269.98 139.57h5.6M272.78 136.77v5.6M271.65 140.69h5.6M274.45 137.89v5.6M273.28 141.79h5.6M276.08 138.99v5.6M274.87 142.87h5.6M277.67 140.07v5.6M276.4 143.94h5.6M279.2 141.14v5.6M277.9 145h5.6M280.7 142.2v5.6M279.36 146.04h5.6M282.16 143.24v5.6M280.78 147.07h5.6M283.58 144.27v5.6M282.17 148.08h5.6M284.97 145.28v5.6M283.53 149.07h5.6M286.33 146.27v5.6M284.85 150.05h5.6M287.65 147.25v5.6M286.14 151.01h5.6M288.94 148.21v5.6M287.4 151.96h5.6M290.2 149.16v5.6M288.64 152.89h5.6M291.44 150.09v5.6M289.84 153.81h5.6M292.64 151.01v5.6M291.03 154.72h5.6M293.83 151.92v5.6M292.19 155.63h5.6M294.99 152.83v5.6M293.32 156.53h5.6M296.12 153.73v5.6M294.43 157.41h5.6M297.23 154.61v5.6M295.52 158.28h5.6M298.32 155.48v5.6M296.59 159.12h5.6M299.39 156.32v5.6M297.64 159.95h5.6M300.44 157.15v5.6M298.67 160.76h5.6M301.47 157.96v5.6M299.69 161.55h5.6M302.49 158.75v5.6M300.68 162.32h5.6M303.48 159.52v5.6M301.66 163.08h5.6M304.46 160.28v5.6M302.62 163.83h5.6M305.42 161.03v5.6M303.56 164.57h5.6M306.36 161.77v5.6M304.49 165.29h5.6M307.29 162.49v5.6M305.41 166.01h5.6M308.21 163.21v5.6M306.3 166.71h5.6M309.1 163.91v5.6M307.19 167.41h5.6M309.99 164.61v5.6M308.06 168.1h5.6M310.86 165.3v5.6M308.92 168.78h5.6M311.72 165.98v5.6M309.76 169.45h5.6M312.56 166.65v5.6M310.59 170.11h5.6M313.39 167.31v5.6M311.41 170.77h5.6M314.21 167.97v5.6M312.22 171.42h5.6M315.02 168.62v5.6M313.02 172.06h5.6M315.82 169.26v5.6M313.81 172.69h5.6M316.61 169.89v5.6M314.58 173.32h5.6M317.38 170.52v5.6M315.34 173.94h5.6M318.14 171.14v5.6M316.1 174.55h5.6M318.9 171.75v5.6M316.84 175.15h5.6M319.64 172.35v5.6M317.58 175.75h5.6M320.38 172.95v5.6M318.3 176.35h5.6M321.1 173.55v5.6M319.02 176.94h5.6M321.82 174.14v5.6M319.72 177.52h5.6M322.52 174.72v5.6M320.42 178.1h5.6M323.22 175.3v5.6M321.11 178.68h5.6M323.91 175.88v5.6M321.79 179.25h5.6M324.59 176.45v5.6M322.47 179.83h5.6M325.27 177.03v5.6M323.13 180.42h5.6M325.93 177.62v5.6M323.79 181.01h5.6M326.59 178.21v5.6M324.44 181.6h5.6M327.24 178.8v5.6M325.08 182.19h5.6M327.88 179.39v5.6M325.71 182.77h5.6M328.51 179.97v5.6M326.34 183.35h5.6M329.14 180.55v5.6M326.96 183.92h5.6M329.76 181.12v5.6M327.58 184.48h5.6M330.38 181.68v5.6M328.18 185.03h5.6M330.98 182.23v5.6M328.78 185.56h5.6M331.58 182.76v5.6M329.38 186.09h5.6M332.18 183.29v5.6M329.97 186.59h5.6M332.77 183.79v5.6M330.55 187.09h5.6M333.35 184.29v5.6M331.13 187.56h5.6M333.93 184.76v5.6M331.7 188.02h5.6M334.5 185.22v5.6M332.26 188.46h5.6M335.06 185.66v5.6M332.82 188.87h5.6M335.62 186.07v5.6M333.37 189.27h5.6M336.17 186.47v5.6M333.92 189.65h5.6M336.72 186.85v5.6M334.46 190.01h5.6M337.26 187.21v5.6M335 190.36h5.6M337.8 187.56v5.6M335.53 190.69h5.6M338.33 187.89v5.6M336.06 191.01h5.6M338.86 188.21v5.6M336.58 191.32h5.6M339.38 188.52v5.6M337.1 191.62h5.6M339.9 188.82v5.6M337.61 191.92h5.6M340.41 189.12v5.6M338.12 192.2h5.6M340.92 189.4v5.6M338.63 192.48h5.6M341.43 189.68v5.6M339.13 192.75h5.6M341.93 189.95v5.6M339.62 193.02h5.6M342.42 190.22v5.6M340.11 193.28h5.6M342.91 190.48v5.6M340.6 193.53h5.6M343.4 190.73v5.6M341.08 193.79h5.6M343.88 190.99v5.6M341.56 194.04h5.6M344.36 191.24v5.6M342.03 194.29h5.6M344.83 191.49v5.6M342.5 194.54h5.6M345.3 191.74v5.6M342.97 194.79h5.6M345.77 191.99v5.6M343.43 195.04h5.6M346.23 192.24v5.6M343.89 195.29h5.6M346.69 192.49v5.6M344.34 195.54h5.6M347.14 192.74v5.6M344.8 195.79h5.6M347.6 192.99v5.6M345.24 196.04h5.6M348.04 193.24v5.6M345.69 196.3h5.6M348.49 193.5v5.6M346.13 196.56h5.6M348.93 193.76v5.6M346.57 196.82h5.6M349.37 194.02v5.6M347 197.08h5.6M349.8 194.28v5.6M347.43 197.34h5.6M350.23 194.54v5.6M347.86 197.61h5.6M350.66 194.81v5.6M348.28 197.87h5.6M351.08 195.07v5.6M348.7 198.13h5.6M351.5 195.33v5.6M349.12 198.39h5.6M351.92 195.59v5.6M349.53 198.65h5.6M352.33 195.85v5.6M349.95 198.91h5.6M352.75 196.11v5.6M350.35 199.16h5.6M353.15 196.36v5.6M350.76 199.41h5.6M353.56 196.61v5.6M351.16 199.66h5.6M353.96 196.86v5.6M351.56 199.91h5.6M354.36 197.11v5.6M351.96 200.15h5.6M354.76 197.35v5.6M352.35 200.39h5.6M355.15 197.59v5.6M352.75 200.63h5.6M355.55 197.83v5.6M353.13 200.87h5.6M355.93 198.07v5.6M353.52 201.1h5.6M356.32 198.3v5.6M353.9 201.34h5.6M356.7 198.54v5.6M354.28 201.57h5.6M357.08 198.77v5.6M354.66 201.8h5.6M357.46 199v5.6M355.04 202.03h5.6M357.84 199.23v5.6M355.41 202.25h5.6M358.21 199.45v5.6M355.78 202.48h5.6M358.58 199.68v5.6M356.15 202.7h5.6M358.95 199.9v5.6M356.52 202.92h5.6M359.32 200.12v5.6M356.88 203.14h5.6M359.68 200.34v5.6M357.24 203.35h5.6M360.04 200.55v5.6M357.6 203.56h5.6M360.4 200.76v5.6M357.96 203.77h5.6M360.76 200.97v5.6M358.31 203.98h5.6M361.11 201.18v5.6M358.66 204.18h5.6M361.46 201.38v5.6M359.01 204.38h5.6M361.81 201.58v5.6M359.36 204.58h5.6M362.16 201.78v5.6M359.71 204.78h5.6M362.51 201.98v5.6M360.05 204.97h5.6M362.85 202.17v5.6M360.39 205.17h5.6M363.19 202.37v5.6M360.73 205.36h5.6M363.53 202.56v5.6M361.07 205.55h5.6M363.87 202.75v5.6M361.41 205.74h5.6M364.21 202.94v5.6M361.74 205.93h5.6M364.54 203.13v5.6M362.07 206.12h5.6M364.87 203.32v5.6M362.4 206.3h5.6M365.2 203.5v5.6M362.73 206.49h5.6M365.53 203.69v5.6M363.05 206.67h5.6M365.85 203.87v5.6M363.38 206.85h5.6M366.18 204.05v5.6M363.7 207.03h5.6M366.5 204.23v5.6M364.02 207.2h5.6M366.82 204.4v5.6M364.34 207.38h5.6M367.14 204.58v5.6M364.65 207.55h5.6M367.45 204.75v5.6M364.97 207.73h5.6M367.77 204.93v5.6M365.28 207.9h5.6M368.08 205.1v5.6M365.59 208.07h5.6M368.39 205.27v5.6M365.9 208.24h5.6M368.7 205.44v5.6M366.21 208.41h5.6M369.01 205.61v5.6M366.52 208.57h5.6M369.32 205.77v5.6M366.82 208.74h5.6M369.62 205.94v5.6M367.12 208.9h5.6M369.92 206.1v5.6M367.42 209.06h5.6M370.22 206.26v5.6M367.72 209.22h5.6M370.52 206.42v5.6M368.02 209.38h5.6M370.82 206.58v5.6M368.32 209.54h5.6M371.12 206.74v5.6M368.61 209.69h5.6M371.41 206.89v5.6M368.91 209.85h5.6M371.71 207.05v5.6M369.2 210h5.6M372 207.2v5.6M369.49 210.16h5.6M372.29 207.36v5.6M369.78 210.31h5.6M372.58 207.51v5.6M370.07 210.46h5.6M372.87 207.66v5.6M370.35 210.61h5.6M373.15 207.81v5.6M370.64 210.75h5.6M373.44 207.95v5.6M370.92 210.9h5.6M373.72 208.1v5.6M371.2 211.04h5.6M374 208.24v5.6M73.55 29.2l5.6 5.6M73.55 34.8l5.6 -5.6M112.49 40.32l5.6 5.6M112.49 45.92l5.6 -5.6M135.27 50.84l5.6 5.6M135.27 56.44l5.6 -5.6M151.43 59.3l5.6 5.6M151.43 64.9l5.6 -5.6M163.97 66.46l5.6 5.6M163.97 72.06l5.6 -5.6M174.21 73.02l5.6 5.6M174.21 78.62l5.6 -5.6M182.87 77.97l5.6 5.6M182.87 83.57l5.6 -5.6M190.37 82.16l5.6 5.6M190.37 87.76l5.6 -5.6M196.99 86.32l5.6 5.6M196.99 91.92l5.6 -5.6M202.91 89.53l5.6 5.6M202.91 95.13l5.6 -5.6M208.26 93l5.6 5.6M208.26 98.6l5.6 -5.6M213.15 95.5l5.6 5.6M213.15 101.1l5.6 -5.6M217.64 98.51l5.6 5.6M217.64 104.11l5.6 -5.6M221.81 101.78l5.6 5.6M221.81 107.38l5.6 -5.6M225.68 104.86l5.6 5.6M225.68 110.46l5.6 -5.6M229.31 107.52l5.6 5.6M229.31 113.12l5.6 -5.6M232.71 109.92l5.6 5.6M232.71 115.52l5.6 -5.6M235.93 112.18l5.6 5.6M235.93 117.78l5.6 -5.6M238.96 114.36l5.6 5.6M238.96 119.96l5.6 -5.6M241.84 116.52l5.6 5.6M241.84 122.12l5.6 -5.6M244.59 118.64l5.6 5.6M244.59 124.24l5.6 -5.6M247.2 120.69l5.6 5.6M247.2 126.29l5.6 -5.6M249.7 122.63l5.6 5.6M249.7 128.23l5.6 -5.6M252.09 124.42l5.6 5.6M252.09 130.02l5.6 -5.6M254.38 126.07l5.6 5.6M254.38 131.67l5.6 -5.6M256.58 127.62l5.6 5.6M256.58 133.22l5.6 -5.6M258.7 129.09l5.6 5.6M258.7 134.69l5.6 -5.6M260.75 130.49l5.6 5.6M260.75 136.09l5.6 -5.6M262.72 131.84l5.6 5.6M262.72 137.44l5.6 -5.6M264.62 133.15l5.6 5.6M264.62 138.75l5.6 -5.6M266.47 134.4l5.6 5.6M266.47 140l5.6 -5.6M268.25 135.61l5.6 5.6M268.25 141.21l5.6 -5.6M269.98 136.77l5.6 5.6M269.98 142.37l5.6 -5.6M271.65 137.89l5.6 5.6M271.65 143.49l5.6 -5.6M273.28 138.99l5.6 5.6M273.28 144.59l5.6 -5.6M274.87 140.07l5.6 5.6M274.87 145.67l5.6 -5.6M276.4 141.14l5.6 5.6M276.4 146.74l5.6 -5.6M277.9 142.2l5.6 5.6M277.9 147.8l5.6 -5.6M279.36 143.24l5.6 5.6M279.36 148.84l5.6 -5.6M280.78 144.27l5.6 5.6M280.78 149.87l5.6 -5.6M282.17 145.28l5.6 5.6M282.17 150.88l5.6 -5.6M283.53 146.27l5.6 5.6M283.53 151.87l5.6 -5.6M284.85 147.25l5.6 5.6M284.85 152.85l5.6 -5.6M286.14 148.21l5.6 5.6M286.14 153.81l5.6 -5.6M287.4 149.16l5.6 5.6M287.4 154.76l5.6 -5.6M288.64 150.09l5.6 5.6M288.64 155.69l5.6 -5.6M289.84 151.01l5.6 5.6M289.84 156.61l5.6 -5.6M291.03 151.92l5.6 5.6M291.03 157.52l5.6 -5.6M292.19 152.83l5.6 5.6M292.19 158.43l5.6 -5.6M293.32 153.73l5.6 5.6M293.32 159.33l5.6 -5.6M294.43 154.61l5.6 5.6M294.43 160.21l5.6 -5.6M295.52 155.48l5.6 5.6M295.52 161.08l5.6 -5.6M296.59 156.32l5.6 5.6M296.59 161.92l5.6 -5.6M297.64 157.15l5.6 5.6M297.64 162.75l5.6 -5.6M298.67 157.96l5.6 5.6M298.67 163.56l5.6 -5.6M299.69 158.75l5.6 5.6M299.69 164.35l5.6 -5.6M300.68 159.52l5.6 5.6M300.68 165.12l5.6 -5.6M301.66 160.28l5.6 5.6M301.66 165.88l5.6 -5.6M302.62 161.03l5.6 5.6M302.62 166.63l5.6 -5.6M303.56 161.77l5.6 5.6M303.56 167.37l5.6 -5.6M304.49 162.49l5.6 5.6M304.49 168.09l5.6 -5.6M305.41 163.21l5.6 5.6M305.41 168.81l5.6 -5.6M306.3 163.91l5.6 5.6M306.3 169.51l5.6 -5.6M307.19 164.61l5.6 5.6M307.19 170.21l5.6 -5.6M308.06 165.3l5.6 5.6M308.06 170.9l5.6 -5.6M308.92 165.98l5.6 5.6M308.92 171.58l5.6 -5.6M309.76 166.65l5.6 5.6M309.76 172.25l5.6 -5.6M310.59 167.31l5.6 5.6M310.59 172.91l5.6 -5.6M311.41 167.97l5.6 5.6M311.41 173.57l5.6 -5.6M312.22 168.62l5.6 5.6M312.22 174.22l5.6 -5.6M313.02 169.26l5.6 5.6M313.02 174.86l5.6 -5.6M313.81 169.89l5.6 5.6M313.81 175.49l5.6 -5.6M314.58 170.52l5.6 5.6M314.58 176.12l5.6 -5.6M315.34 171.14l5.6 5.6M315.34 176.74l5.6 -5.6M316.1 171.75l5.6 5.6M316.1 177.35l5.6 -5.6M316.84 172.35l5.6 5.6M316.84 177.95l5.6 -5.6M317.58 172.95l5.6 5.6M317.58 178.55l5.6 -5.6M318.3 173.55l5.6 5.6M318.3 179.15l5.6 -5.6M319.02 174.14l5.6 5.6M319.02 179.74l5.6 -5.6M319.72 174.72l5.6 5.6M319.72 180.32l5.6 -5.6M320.42 175.3l5.6 5.6M320.42 180.9l5.6 -5.6M321.11 175.88l5.6 5.6M321.11 181.48l5.6 -5.6M321.79 176.45l5.6 5.6M321.79 182.05l5.6 -5.6M322.47 177.03l5.6 5.6M322.47 182.63l5.6 -5.6M323.13 177.62l5.6 5.6M323.13 183.22l5.6 -5.6M323.79 178.21l5.6 5.6M323.79 183.81l5.6 -5.6M324.44 178.8l5.6 5.6M324.44 184.4l5.6 -5.6M325.08 179.39l5.6 5.6M325.08 184.99l5.6 -5.6M325.71 179.97l5.6 5.6M325.71 185.57l5.6 -5.6M326.34 180.55l5.6 5.6M326.34 186.15l5.6 -5.6M326.96 181.12l5.6 5.6M326.96 186.72l5.6 -5.6M327.58 181.68l5.6 5.6M327.58 187.28l5.6 -5.6M328.18 182.23l5.6 5.6M328.18 187.83l5.6 -5.6M328.78 182.76l5.6 5.6M328.78 188.36l5.6 -5.6M329.38 183.29l5.6 5.6M329.38 188.89l5.6 -5.6M329.97 183.79l5.6 5.6M329.97 189.39l5.6 -5.6M330.55 184.29l5.6 5.6M330.55 189.89l5.6 -5.6M331.13 184.76l5.6 5.6M331.13 190.36l5.6 -5.6M331.7 185.22l5.6 5.6M331.7 190.82l5.6 -5.6M332.26 185.66l5.6 5.6M332.26 191.26l5.6 -5.6M332.82 186.07l5.6 5.6M332.82 191.67l5.6 -5.6M333.37 186.47l5.6 5.6M333.37 192.07l5.6 -5.6M333.92 186.85l5.6 5.6M333.92 192.45l5.6 -5.6M334.46 187.21l5.6 5.6M334.46 192.81l5.6 -5.6M335 187.56l5.6 5.6M335 193.16l5.6 -5.6M335.53 187.89l5.6 5.6M335.53 193.49l5.6 -5.6M336.06 188.21l5.6 5.6M336.06 193.81l5.6 -5.6M336.58 188.52l5.6 5.6M336.58 194.12l5.6 -5.6M337.1 188.82l5.6 5.6M337.1 194.42l5.6 -5.6M337.61 189.12l5.6 5.6M337.61 194.72l5.6 -5.6M338.12 189.4l5.6 5.6M338.12 195l5.6 -5.6M338.63 189.68l5.6 5.6M338.63 195.28l5.6 -5.6M339.13 189.95l5.6 5.6M339.13 195.55l5.6 -5.6M339.62 190.22l5.6 5.6M339.62 195.82l5.6 -5.6M340.11 190.48l5.6 5.6M340.11 196.08l5.6 -5.6M340.6 190.73l5.6 5.6M340.6 196.33l5.6 -5.6M341.08 190.99l5.6 5.6M341.08 196.59l5.6 -5.6M341.56 191.24l5.6 5.6M341.56 196.84l5.6 -5.6M342.03 191.49l5.6 5.6M342.03 197.09l5.6 -5.6M342.5 191.74l5.6 5.6M342.5 197.34l5.6 -5.6M342.97 191.99l5.6 5.6M342.97 197.59l5.6 -5.6M343.43 192.24l5.6 5.6M343.43 197.84l5.6 -5.6M343.89 192.49l5.6 5.6M343.89 198.09l5.6 -5.6M344.34 192.74l5.6 5.6M344.34 198.34l5.6 -5.6M344.8 192.99l5.6 5.6M344.8 198.59l5.6 -5.6M345.24 193.24l5.6 5.6M345.24 198.84l5.6 -5.6M345.69 193.5l5.6 5.6M345.69 199.1l5.6 -5.6M346.13 193.76l5.6 5.6M346.13 199.36l5.6 -5.6M346.57 194.02l5.6 5.6M346.57 199.62l5.6 -5.6M347 194.28l5.6 5.6M347 199.88l5.6 -5.6M347.43 194.54l5.6 5.6M347.43 200.14l5.6 -5.6M347.86 194.81l5.6 5.6M347.86 200.41l5.6 -5.6M348.28 195.07l5.6 5.6M348.28 200.67l5.6 -5.6M348.7 195.33l5.6 5.6M348.7 200.93l5.6 -5.6M349.12 195.59l5.6 5.6M349.12 201.19l5.6 -5.6M349.53 195.85l5.6 5.6M349.53 201.45l5.6 -5.6M349.95 196.11l5.6 5.6M349.95 201.71l5.6 -5.6M350.35 196.36l5.6 5.6M350.35 201.96l5.6 -5.6M350.76 196.61l5.6 5.6M350.76 202.21l5.6 -5.6M351.16 196.86l5.6 5.6M351.16 202.46l5.6 -5.6M351.56 197.11l5.6 5.6M351.56 202.71l5.6 -5.6M351.96 197.35l5.6 5.6M351.96 202.95l5.6 -5.6M352.35 197.59l5.6 5.6M352.35 203.19l5.6 -5.6M352.75 197.83l5.6 5.6M352.75 203.43l5.6 -5.6M353.13 198.07l5.6 5.6M353.13 203.67l5.6 -5.6M353.52 198.3l5.6 5.6M353.52 203.9l5.6 -5.6M353.9 198.54l5.6 5.6M353.9 204.14l5.6 -5.6M354.28 198.77l5.6 5.6M354.28 204.37l5.6 -5.6M354.66 199l5.6 5.6M354.66 204.6l5.6 -5.6M355.04 199.23l5.6 5.6M355.04 204.83l5.6 -5.6M355.41 199.45l5.6 5.6M355.41 205.05l5.6 -5.6M355.78 199.68l5.6 5.6M355.78 205.28l5.6 -5.6M356.15 199.9l5.6 5.6M356.15 205.5l5.6 -5.6M356.52 200.12l5.6 5.6M356.52 205.72l5.6 -5.6M356.88 200.34l5.6 5.6M356.88 205.94l5.6 -5.6M357.24 200.55l5.6 5.6M357.24 206.15l5.6 -5.6M357.6 200.76l5.6 5.6M357.6 206.36l5.6 -5.6M357.96 200.97l5.6 5.6M357.96 206.57l5.6 -5.6M358.31 201.18l5.6 5.6M358.31 206.78l5.6 -5.6M358.66 201.38l5.6 5.6M358.66 206.98l5.6 -5.6M359.01 201.58l5.6 5.6M359.01 207.18l5.6 -5.6M359.36 201.78l5.6 5.6M359.36 207.38l5.6 -5.6M359.71 201.98l5.6 5.6M359.71 207.58l5.6 -5.6M360.05 202.17l5.6 5.6M360.05 207.77l5.6 -5.6M360.39 202.37l5.6 5.6M360.39 207.97l5.6 -5.6M360.73 202.56l5.6 5.6M360.73 208.16l5.6 -5.6M361.07 202.75l5.6 5.6M361.07 208.35l5.6 -5.6M361.41 202.94l5.6 5.6M361.41 208.54l5.6 -5.6M361.74 203.13l5.6 5.6M361.74 208.73l5.6 -5.6M362.07 203.32l5.6 5.6M362.07 208.92l5.6 -5.6M362.4 203.5l5.6 5.6M362.4 209.1l5.6 -5.6M362.73 203.69l5.6 5.6M362.73 209.29l5.6 -5.6M363.05 203.87l5.6 5.6M363.05 209.47l5.6 -5.6M363.38 204.05l5.6 5.6M363.38 209.65l5.6 -5.6M363.7 204.23l5.6 5.6M363.7 209.83l5.6 -5.6M364.02 204.4l5.6 5.6M364.02 210l5.6 -5.6M364.34 204.58l5.6 5.6M364.34 210.18l5.6 -5.6M364.65 204.75l5.6 5.6M364.65 210.35l5.6 -5.6M364.97 204.93l5.6 5.6M364.97 210.53l5.6 -5.6M365.28 205.1l5.6 5.6M365.28 210.7l5.6 -5.6M365.59 205.27l5.6 5.6M365.59 210.87l5.6 -5.6M365.9 205.44l5.6 5.6M365.9 211.04l5.6 -5.6M366.21 205.61l5.6 5.6M366.21 211.21l5.6 -5.6M366.52 205.77l5.6 5.6M366.52 211.37l5.6 -5.6M366.82 205.94l5.6 5.6M366.82 211.54l5.6 -5.6M367.12 206.1l5.6 5.6M367.12 211.7l5.6 -5.6M367.42 206.26l5.6 5.6M367.42 211.86l5.6 -5.6M367.72 206.42l5.6 5.6M367.72 212.02l5.6 -5.6M368.02 206.58l5.6 5.6M368.02 212.18l5.6 -5.6M368.32 206.74l5.6 5.6M368.32 212.34l5.6 -5.6M368.61 206.89l5.6 5.6M368.61 212.49l5.6 -5.6M368.91 207.05l5.6 5.6M368.91 212.65l5.6 -5.6M369.2 207.2l5.6 5.6M369.2 212.8l5.6 -5.6M369.49 207.36l5.6 5.6M369.49 212.96l5.6 -5.6M369.78 207.51l5.6 5.6M369.78 213.11l5.6 -5.6M370.07 207.66l5.6 5.6M370.07 213.26l5.6 -5.6M370.35 207.81l5.6 5.6M370.35 213.41l5.6 -5.6M370.64 207.95l5.6 5.6M370.64 213.55l5.6 -5.6M370.92 208.1l5.6 5.6M370.92 213.7l5.6 -5.6M371.2 208.24l5.6 5.6M371.2 213.84l5.6 -5.6"/>
<path fill="none" stroke="#000000" stroke-width="1.2" d="M76.35 32 L115.29 42.14 L138.07 49.42 L154.23 55.14 L166.77 60.5 L177.01 64.89 L185.67 67.93 L193.17 69.93 L199.79 72.56 L205.71 75.28 L211.06 77.23 L215.95 78.79 L220.44 80.21 L224.61 81.45 L228.48 82.43 L232.11 83.15 L235.51 83.72 L238.73 84.22 L241.76 84.68 L244.64 85.14 L247.39 85.61 L250 86.08 L252.5 86.51 L254.89 86.88 L257.18 87.21 L259.38 87.52 L261.5 87.8 L263.55 88.06 L265.52 88.31 L267.42 88.54 L269.27 88.76 L271.05 88.97 L272.78 89.17 L274.45 89.36 L276.08 89.55 L277.67 89.73 L279.2 89.91 L280.7 90.08 L282.16 90.25 L283.58 90.42 L284.97 90.59 L286.33 90.75 L287.65 90.9 L288.94 91.06 L290.2 91.2 L291.44 91.35 L292.64 91.49 L293.83 91.62 L294.99 91.75 L296.12 91.87 L297.23 91.99 L298.32 92.1 L299.39 92.21 L300.44 92.31 L301.47 92.4 L302.49 92.49 L303.48 92.58 L304.46 92.66 L305.42 92.73 L306.36 92.8 L307.29 92.87 L308.21 92.93 L309.1 92.99 L309.99 93.05 L310.86 93.11 L311.72 93.16 L312.56 93.21 L313.39 93.26 L314.21 93.31 L315.02 93.35 L315.82 93.4 L316.61 93.44 L317.38 93.48 L318.14 93.52 L318.9 93.56 L319.64 93.6 L320.38 93.64 L321.1 93.68 L321.82 93.72 L322.52 93.76 L323.22 93.8 L323.91 93.84 L324.59 93.88 L325.27 93.91 L325.93 93.95 L326.59 93.99 L327.24 94.03 L327.88 94.07 L328.51 94.11 L329.14 94.15 L329.76 94.18 L330.38 94.22 L330.98 94.26 L331.58 94.31 L332.18 94.35 L332.77 94.39 L333.35 94.43 L333.93 94.47 L334.5 94.51 L335.06 94.55 L335.62 94.59 L336.17 94.63 L336.72 94.67 L337.26 94.71 L337.8 94.75 L338.33 94.79 L338.86 94.83 L339.38 94.87 L339.9 94.91 L340.41 94.94 L340.92 94.98 L341.43 95.02 L341.93 95.06 L342.42 95.09 L342.91 95.13 L343.4 95.16 L343.88 95.2 L344.36 95.23 L344.83 95.26 L345.3 95.3 L345.77 95.33 L346.23 95.36 L346.69 95.39 L347.14 95.42 L347.6 95.45 L348.04 95.48 L348.49 95.51 L348.93 95.53 L349.37 95.56 L349.8 95.59 L350.23 95.61 L350.66 95.64 L351.08 95.66 L351.5 95.69 L351.92 95.71 L352.33 95.74 L352.75 95.76 L353.15 95.78 L353.56 95.81 L353.96 95.83 L354.36 95.85 L354.76 95.88 L355.15 95.9 L355.55 95.92 L355.93 95.94 L356.32 95.96 L356.7 95.99 L357.08 96.01 L357.46 96.03 L357.84 96.05 L358.21 96.07 L358.58 96.09 L358.95 96.11 L359.32 96.13 L359.68 96.15 L360.04 96.17 L360.4 96.19 L360.76 96.2 L361.11 96.22 L361.46 96.24 L361.81 96.26 L362.16 96.28 L362.51 96.3 L362.85 96.31 L363.19 96.33 L363.53 96.35 L363.87 96.36 L364.21 96.38 L364.54 96.4 L364.87 96.41 L365.2 96.43 L365.53 96.45 L365.85 96.46 L366.18 96.48 L366.5 96.49 L366.82 96.51 L367.14 96.52 L367.45 96.54 L367.77 96.55 L368.08 96.57 L368.39 96.58 L368.7 96.6 L369.01 96.61 L369.32 96.63 L369.62 96.64 L369.92 96.65 L370.22 96.67 L370.52 96.68 L370.82 96.69 L371.12 96.71 L371.41 96.72 L371.71 96.73 L372 96.75 L372.29 96.76 L372.58 96.77 L372.87 96.78 L373.15 96.79 L373.44 96.81 L373.72 96.82 L374 96.83" stroke-dasharray="11.4 3.2 3.1 3.6"/>
<path fill="none" stroke="#000000" stroke-width="1.2" d="M73.7 29.35h5.3v5.3h-5.3zM112.64 39.49h5.3v5.3h-5.3zM135.42 46.77h5.3v5.3h-5.3zM151.58 52.49h5.3v5.3h-5.3zM164.12 57.85h5.3v5.3h-5.3zM174.36 62.24h5.3v5.3h-5.3zM183.02 65.28h5.3v5.3h-5.3zM190.52 67.28h5.3v5.3h-5.3zM197.14 69.91h5.3v5.3h-5.3zM203.06 72.63h5.3v5.3h-5.3zM208.41 74.58h5.3v5.3h-5.3zM213.3 76.14h5.3v5.3h-5.3zM217.79 77.56h5.3v5.3h-5.3zM221.96 78.8h5.3v5.3h-5.3zM225.83 79.78h5.3v5.3h-5.3zM229.46 80.5h5.3v5.3h-5.3zM232.86 81.07h5.3v5.3h-5.3zM236.08 81.57h5.3v5.3h-5.3zM239.11 82.03h5.3v5.3h-5.3zM241.99 82.49h5.3v5.3h-5.3zM244.74 82.96h5.3v5.3h-5.3zM247.35 83.43h5.3v5.3h-5.3zM249.85 83.86h5.3v5.3h-5.3zM252.24 84.23h5.3v5.3h-5.3zM254.53 84.56h5.3v5.3h-5.3zM256.73 84.87h5.3v5.3h-5.3zM258.85 85.15h5.3v5.3h-5.3zM260.9 85.41h5.3v5.3h-5.3zM262.87 85.66h5.3v5.3h-5.3zM264.77 85.89h5.3v5.3h-5.3zM266.62 86.11h5.3v5.3h-5.3zM268.4 86.32h5.3v5.3h-5.3zM270.13 86.52h5.3v5.3h-5.3zM271.8 86.71h5.3v5.3h-5.3zM273.43 86.9h5.3v5.3h-5.3zM275.02 87.08h5.3v5.3h-5.3zM276.55 87.26h5.3v5.3h-5.3zM278.05 87.43h5.3v5.3h-5.3zM279.51 87.6h5.3v5.3h-5.3zM280.93 87.77h5.3v5.3h-5.3zM282.32 87.94h5.3v5.3h-5.3zM283.68 88.1h5.3v5.3h-5.3zM285 88.25h5.3v5.3h-5.3zM286.29 88.41h5.3v5.3h-5.3zM287.55 88.55h5.3v5.3h-5.3zM288.79 88.7h5.3v5.3h-5.3zM289.99 88.84h5.3v5.3h-5.3zM291.18 88.97h5.3v5.3h-5.3zM292.34 89.1h5.3v5.3h-5.3zM293.47 89.22h5.3v5.3h-5.3zM294.58 89.34h5.3v5.3h-5.3zM295.67 89.45h5.3v5.3h-5.3zM296.74 89.56h5.3v5.3h-5.3zM297.79 89.66h5.3v5.3h-5.3zM298.82 89.75h5.3v5.3h-5.3zM299.84 89.84h5.3v5.3h-5.3zM300.83 89.93h5.3v5.3h-5.3zM301.81 90.01h5.3v5.3h-5.3zM302.77 90.08h5.3v5.3h-5.3zM303.71 90.15h5.3v5.3h-5.3zM304.64 90.22h5.3v5.3h-5.3zM305.56 90.28h5.3v5.3h-5.3zM306.45 90.34h5.3v5.3h-5.3zM307.34 90.4h5.3v5.3h-5.3zM308.21 90.46h5.3v5.3h-5.3zM309.07 90.51h5.3v5.3h-5.3zM309.91 90.56h5.3v5.3h-5.3zM310.74 90.61h5.3v5.3h-5.3zM311.56 90.66h5.3v5.3h-5.3zM312.37 90.7h5.3v5.3h-5.3zM313.17 90.75h5.3v5.3h-5.3zM313.96 90.79h5.3v5.3h-5.3zM314.73 90.83h5.3v5.3h-5.3zM315.49 90.87h5.3v5.3h-5.3zM316.25 90.91h5.3v5.3h-5.3zM316.99 90.95h5.3v5.3h-5.3zM317.73 90.99h5.3v5.3h-5.3zM318.45 91.03h5.3v5.3h-5.3zM319.17 91.07h5.3v5.3h-5.3zM319.87 91.11h5.3v5.3h-5.3zM320.57 91.15h5.3v5.3h-5.3zM321.26 91.19h5.3v5.3h-5.3zM321.94 91.23h5.3v5.3h-5.3zM322.62 91.26h5.3v5.3h-5.3zM323.28 91.3h5.3v5.3h-5.3zM323.94 91.34h5.3v5.3h-5.3zM324.59 91.38h5.3v5.3h-5.3zM325.23 91.42h5.3v5.3h-5.3zM325.86 91.46h5.3v5.3h-5.3zM326.49 91.5h5.3v5.3h-5.3zM327.11 91.53h5.3v5.3h-5.3zM327.73 91.57h5.3v5.3h-5.3zM328.33 91.61h5.3v5.3h-5.3zM328.93 91.66h5.3v5.3h-5.3zM329.53 91.7h5.3v5.3h-5.3zM330.12 91.74h5.3v5.3h-5.3zM330.7 91.78h5.3v5.3h-5.3zM331.28 91.82h5.3v5.3h-5.3zM331.85 91.86h5.3v5.3h-5.3zM332.41 91.9h5.3v5.3h-5.3zM332.97 91.94h5.3v5.3h-5.3zM333.52 91.98h5.3v5.3h-5.3zM334.07 92.02h5.3v5.3h-5.3zM334.61 92.06h5.3v5.3h-5.3zM335.15 92.1h5.3v5.3h-5.3zM335.68 92.14h5.3v5.3h-5.3zM336.21 92.18h5.3v5.3h-5.3zM336.73 92.22h5.3v5.3h-5.3zM337.25 92.26h5.3v5.3h-5.3zM337.76 92.29h5.3v5.3h-5.3zM338.27 92.33h5.3v5.3h-5.3zM338.78 92.37h5.3v5.3h-5.3zM339.28 92.41h5.3v5.3h-5.3zM339.77 92.44h5.3v5.3h-5.3zM340.26 92.48h5.3v5.3h-5.3zM340.75 92.51h5.3v5.3h-5.3zM341.23 92.55h5.3v5.3h-5.3zM341.71 92.58h5.3v5.3h-5.3zM342.18 92.61h5.3v5.3h-5.3zM342.65 92.65h5.3v5.3h-5.3zM343.12 92.68h5.3v5.3h-5.3zM343.58 92.71h5.3v5.3h-5.3zM344.04 92.74h5.3v5.3h-5.3zM344.49 92.77h5.3v5.3h-5.3zM344.95 92.8h5.3v5.3h-5.3zM345.39 92.83h5.3v5.3h-5.3zM345.84 92.86h5.3v5.3h-5.3zM346.28 92.88h5.3v5.3h-5.3zM346.72 92.91h5.3v5.3h-5.3zM347.15 92.94h5.3v5.3h-5.3zM347.58 92.96h5.3v5.3h-5.3zM348.01 92.99h5.3v5.3h-5.3zM348.43 93.01h5.3v5.3h-5.3zM348.85 93.04h5.3v5.3h-5.3zM349.27 93.06h5.3v5.3h-5.3zM349.68 93.09h5.3v5.3h-5.3zM350.1 93.11h5.3v5.3h-5.3zM350.5 93.13h5.3v5.3h-5.3zM350.91 93.16h5.3v5.3h-5.3zM351.31 93.18h5.3v5.3h-5.3zM351.71 93.2h5.3v5.3h-5.3zM352.11 93.23h5.3v5.3h-5.3zM352.5 93.25h5.3v5.3h-5.3zM352.9 93.27h5.3v5.3h-5.3zM353.28 93.29h5.3v5.3h-5.3zM353.67 93.31h5.3v5.3h-5.3zM354.05 93.34h5.3v5.3h-5.3zM354.43 93.36h5.3v5.3h-5.3zM354.81 93.38h5.3v5.3h-5.3zM355.19 93.4h5.3v5.3h-5.3zM355.56 93.42h5.3v5.3h-5.3zM355.93 93.44h5.3v5.3h-5.3zM356.3 93.46h5.3v5.3h-5.3zM356.67 93.48h5.3v5.3h-5.3zM357.03 93.5h5.3v5.3h-5.3zM357.39 93.52h5.3v5.3h-5.3zM357.75 93.54h5.3v5.3h-5.3zM358.11 93.55h5.3v5.3h-5.3zM358.46 93.57h5.3v5.3h-5.3zM358.81 93.59h5.3v5.3h-5.3zM359.16 93.61h5.3v5.3h-5.3zM359.51 93.63h5.3v5.3h-5.3zM359.86 93.65h5.3v5.3h-5.3zM360.2 93.66h5.3v5.3h-5.3zM360.54 93.68h5.3v5.3h-5.3zM360.88 93.7h5.3v5.3h-5.3zM361.22 93.71h5.3v5.3h-5.3zM361.56 93.73h5.3v5.3h-5.3zM361.89 93.75h5.3v5.3h-5.3zM362.22 93.76h5.3v5.3h-5.3zM362.55 93.78h5.3v5.3h-5.3zM362.88 93.8h5.3v5.3h-5.3zM363.2 93.81h5.3v5.3h-5.3zM363.53 93.83h5.3v5.3h-5.3zM363.85 93.84h5.3v5.3h-5.3zM364.17 93.86h5.3v5.3h-5.3zM364.49 93.87h5.3v5.3h-5.3zM364.8 93.89h5.3v5.3h-5.3zM365.12 93.9h5.3v5.3h-5.3zM365.43 93.92h5.3v5.3h-5.3zM365.74 93.93h5.3v5.3h-5.3zM366.05 93.95h5.3v5.3h-5.3zM366.36 93.96h5.3v5.3h-5.3zM366.67 93.98h5.3v5.3h-5.3zM366.97 93.99h5.3v5.3h-5.3zM367.27 94h5.3v5.3h-5.3zM367.57 94.02h5.3v5.3h-5.3zM367.87 94.03h5.3v5.3h-5.3zM368.17 94.04h5.3v5.3h-5.3zM368.47 94.06h5.3v5.3h-5.3zM368.76 94.07h5.3v5.3h-5.3zM369.06 94.08h5.3v5.3h-5.3zM369.35 94.1h5.3v5.3h-5.3zM369.64 94.11h5.3v5.3h-5.3zM369.93 94.12h5.3v5.3h-5.3zM370.22 94.13h5.3v5.3h-5.3zM370.5 94.14h5.3v5.3h-5.3zM370.79 94.16h5.3v5.3h-5.3zM371.07 94.17h5.3v5.3h-5.3zM371.35 94.18h5.3v5.3h-5.3zM75.85 32h1M114.79 42.14h1M137.57 49.42h1M153.73 55.14h1M166.27 60.5h1M176.51 64.89h1M185.17 67.93h1M192.67 69.93h1M199.29 72.56h1M205.21 75.28h1M210.56 77.23h1M215.45 78.79h1M219.94 80.21h1M224.11 81.45h1M227.98 82.43h1M231.61 83.15h1M235.01 83.72h1M238.23 84.22h1M241.26 84.68h1M244.14 85.14h1M246.89 85.61h1M249.5 86.08h1M252 86.51h1M254.39 86.88h1M256.68 87.21h1M258.88 87.52h1M261 87.8h1M263.05 88.06h1M265.02 88.31h1M266.92 88.54h1M268.77 88.76h1M270.55 88.97h1M272.28 89.17h1M273.95 89.36h1M275.58 89.55h1M277.17 89.73h1M278.7 89.91h1M280.2 90.08h1M281.66 90.25h1M283.08 90.42h1M284.47 90.59h1M285.83 90.75h1M287.15 90.9h1M288.44 91.06h1M289.7 91.2h1M290.94 91.35h1M292.14 91.49h1M293.33 91.62h1M294.49 91.75h1M295.62 91.87h1M296.73 91.99h1M297.82 92.1h1M298.89 92.21h1M299.94 92.31h1M300.97 92.4h1M301.99 92.49h1M302.98 92.58h1M303.96 92.66h1M304.92 92.73h1M305.86 92.8h1M306.79 92.87h1M307.71 92.93h1M308.6 92.99h1M309.49 93.05h1M310.36 93.11h1M311.22 93.16h1M312.06 93.21h1M312.89 93.26h1M313.71 93.31h1M314.52 93.35h1M315.32 93.4h1M316.11 93.44h1M316.88 93.48h1M317.64 93.52h1M318.4 93.56h1M319.14 93.6h1M319.88 93.64h1M320.6 93.68h1M321.32 93.72h1M322.02 93.76h1M322.72 93.8h1M323.41 93.84h1M324.09 93.88h1M324.77 93.91h1M325.43 93.95h1M326.09 93.99h1M326.74 94.03h1M327.38 94.07h1M328.01 94.11h1M328.64 94.15h1M329.26 94.18h1M329.88 94.22h1M330.48 94.26h1M331.08 94.31h1M331.68 94.35h1M332.27 94.39h1M332.85 94.43h1M333.43 94.47h1M334 94.51h1M334.56 94.55h1M335.12 94.59h1M335.67 94.63h1M336.22 94.67h1M336.76 94.71h1M337.3 94.75h1M337.83 94.79h1M338.36 94.83h1M338.88 94.87h1M339.4 94.91h1M339.91 94.94h1M340.42 94.98h1M340.93 95.02h1M341.43 95.06h1M341.92 95.09h1M342.41 95.13h1M342.9 95.16h1M343.38 95.2h1M343.86 95.23h1M344.33 95.26h1M344.8 95.3h1M345.27 95.33h1M345.73 95.36h1M346.19 95.39h1M346.64 95.42h1M347.1 95.45h1M347.54 95.48h1M347.99 95.51h1M348.43 95.53h1M348.87 95.56h1M349.3 95.59h1M349.73 95.61h1M350.16 95.64h1M350.58 95.66h1M351 95.69h1M351.42 95.71h1M351.83 95.74h1M352.25 95.76h1M352.65 95.78h1M353.06 95.81h1M353.46 95.83h1M353.86 95.85h1M354.26 95.88h1M354.65 95.9h1M355.05 95.92h1M355.43 95.94h1M355.82 95.96h1M356.2 95.99h1M356.58 96.01h1M356.96 96.03h1M357.34 96.05h1M357.71 96.07h1M358.08 96.09h1M358.45 96.11h1M358.82 96.13h1M359.18 96.15h1M359.54 96.17h1M359.9 96.19h1M360.26 96.2h1M360.61 96.22h1M360.96 96.24h1M361.31 96.26h1M361.66 96.28h1M362.01 96.3h1M362.35 96.31h1M362.69 96.33h1M363.03 96.35h1M363.37 96.36h1M363.71 96.38h1M364.04 96.4h1M364.37 96.41h1M364.7 96.43h1M365.03 96.45h1M365.35 96.46h1M365.68 96.48h1M366 96.49h1M366.32 96.51h1M366.64 96.52h1M366.95 96.54h1M367.27 96.55h1M367.58 96.57h1M367.89 96.58h1M368.2 96.6h1M368.51 96.61h1M368.82 96.63h1M369.12 96.64h1M369.42 96.65h1M369.72 96.67h1M370.02 96.68h1M370.32 96.69h1M370.62 96.71h1M370.91 96.72h1M371.21 96.73h1M371.5 96.75h1M371.79 96.76h1M372.08 96.77h1M372.37 96.78h1M372.65 96.79h1M372.94 96.81h1M373.22 96.82h1M373.5 96.83h1"/>
<g fill="none" stroke="#0000ff" stroke-width="1.2">
<path d="M92.75 174.75H127.75"/>
<path d="M107.7 174.75h5.1M110.25 172.2v5.1"/>
</g>
<text x="177.9" y="179.65" text-anchor="end">HA</text>
<g fill="none" stroke="#ff0000" stroke-width="1.2">
<path d="M92.75 191.35H127.75" stroke-dasharray="4 5.67"/>
<path d="M107.5 188.6l5.5 5.5M107.5 194.1l5.5 -5.5"/>
</g>
<text x="177.9" y="196.25" text-anchor="end">SA</text>
<g fill="none" stroke="#228b22" stroke-width="1.2">
<path d="M92.75 207.9H127.75" stroke-dasharray="1.35 1.98"/>
<path d="M107.45 207.9h5.6M110.25 205.1v5.6M107.45 205.1l5.6 5.6M107.45 210.7l5.6 -5.6"/>
</g>
<text x="177.9" y="212.8" text-anchor="end">HA+SA</text>
<g fill="none" stroke="#000000" stroke-width="1.2">
<path d="M92.75 224.5H127.75" stroke-dasharray="11.4 3.2 3.1 3.6"/>
<path d="M107.6 221.85h5.3v5.3h-5.3zM109.75 224.5h1"/>
</g>
<text x="177.9" y="229.4" text-anchor="end">SA2</text>
</svg></body></html>
